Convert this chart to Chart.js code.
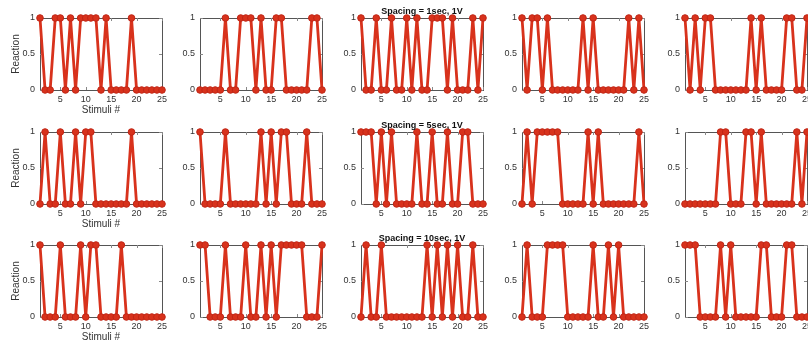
<!DOCTYPE html>
<html>
<head>
<meta charset="utf-8">
<script src="https://cdn.jsdelivr.net/npm/chart.js@4.4.1/dist/chart.umd.min.js"></script>
<style>
  body { margin: 0; background: #fff; width: 808px; height: 348px; overflow: hidden; position: relative; }
  canvas { position: absolute; }
</style>
</head>
<body>
<script>
// stimulus index on the x axis
const stimuli = [1, 2, 3, 4, 5, 6, 7, 8, 9, 10, 11, 12, 13, 14, 15, 16, 17, 18, 19, 20, 21, 22, 23, 24, 25];
const xTicks = [5, 10, 15, 20, 25];
const yTicks = [0, 0.5, 1];
const spacingTitles = ['Spacing = 1sec, 1V', 'Spacing = 5sec, 1V', 'Spacing = 10sec, 1V'];

// reaction (0 / 1) per stimulus, one array per subject, spacing 1 sec
const sp1_a = [1,0,0,1,1, 0,1,0,1,1, 1,1,0,1,0, 0,0,0,1,0, 0,0,0,0,0];
const sp1_b = [0,0,0,0,0, 1,0,0,1,1, 1,0,1,0,0, 1,1,0,0,0, 0,0,1,1,0];
const sp1_c = [1,0,0,1,0, 0,1,0,0,1, 0,1,0,0,1, 1,1,0,1,0, 0,0,1,0,1];
const sp1_d = [1,0,1,1,0, 1,0,0,0,0, 0,0,1,0,1, 0,0,0,0,0, 0,1,0,1,0];
const sp1_e = [1,0,1,0,1, 1,0,0,0,0, 0,0,0,1,0, 1,0,0,0,0, 1,1,0,0,1];

// spacing 5 sec
const sp5_a = [0,1,0,0,1, 0,0,1,0,1, 1,0,0,0,0, 0,0,0,1,0, 0,0,0,0,0];
const sp5_b = [1,0,0,0,0, 1,0,0,0,0, 0,0,1,0,1, 0,1,1,0,0, 0,1,0,0,0];
const sp5_c = [1,1,1,0,1, 0,1,0,0,0, 0,1,0,0,1, 0,0,1,0,0, 1,1,0,0,0];
const sp5_d = [0,1,0,1,1, 1,1,1,0,0, 0,0,0,1,0, 1,0,0,0,0, 0,0,0,1,0];
const sp5_e = [0,0,0,0,0, 0,0,1,1,0, 0,0,1,1,0, 1,0,0,0,0, 0,0,1,0,1];

// spacing 10 sec
const sp10_a = [1,0,0,0,1, 0,0,0,1,0, 1,1,0,0,0, 0,1,0,0,0, 0,0,0,0,0];
const sp10_b = [1,1,0,0,0, 1,0,0,0,1, 0,0,1,0,1, 0,1,1,1,1, 1,0,0,0,1];
const sp10_c = [0,1,0,0,1, 0,0,0,0,0, 0,0,0,1,0, 1,0,1,0,1, 0,0,1,0,0];
const sp10_d = [0,1,0,0,0, 1,1,1,1,0, 0,0,0,0,1, 0,0,1,0,1, 0,0,0,0,0];
const sp10_e = [1,1,1,0,0, 0,0,1,0,1, 0,0,0,0,0, 1,1,0,0,0, 1,1,0,0,0];

const rows = [
  [sp1_a, sp1_b, sp1_c, sp1_d, sp1_e],
  [sp5_a, sp5_b, sp5_c, sp5_d, sp5_e],
  [sp10_a, sp10_b, sp10_c, sp10_d, sp10_e]
];

// page layout of the plot boxes
const colLeft = [40, 200, 361, 522, 685];
const rowTop = [18, 132, 245];
const plotWidth = 122;
const plotHeight = 72;

const red = '#d8321c';
const font = 'Liberation Sans, Arial, sans-serif';

// matlab style box with inward ticks
const boxPlugin = {
  id: 'box',
  beforeDatasetsDraw(chart) {
    const { ctx, chartArea: a, scales } = chart;
    ctx.save();
    ctx.strokeStyle = '#555';
    ctx.lineWidth = 1;
    ctx.strokeRect(a.left + 0.5, a.top + 0.5, a.width, a.height);
    ctx.strokeStyle = '#888';
    ctx.beginPath();
    xTicks.forEach(v => {
      const px = Math.round(scales.x.getPixelForValue(v)) + 0.5;
      ctx.moveTo(px, a.bottom); ctx.lineTo(px, a.bottom - 3);
      ctx.moveTo(px, a.top); ctx.lineTo(px, a.top + 3);
    });
    yTicks.forEach(v => {
      const py = Math.round(scales.y.getPixelForValue(v)) + 0.5;
      ctx.moveTo(a.left, py); ctx.lineTo(a.left + 3, py);
      ctx.moveTo(a.right, py); ctx.lineTo(a.right - 3, py);
    });
    ctx.stroke();
    ctx.restore();
  }
};

const spacingTitlePlugin = {
  id: 'spacingTitle',
  afterDraw(chart, args, opts) {
    if (!opts.text) return;
    const { ctx, chartArea: a } = chart;
    ctx.save();
    ctx.font = 'bold 9px ' + font;
    ctx.fillStyle = '#111';
    ctx.textAlign = 'center';
    ctx.textBaseline = 'middle';
    ctx.fillText(opts.text, (a.left + a.right) / 2, a.top - 6);
    ctx.restore();
  }
};

function makeChart(row, col, values) {
  const first = col === 0;
  const titled = col === 2;
  const yw = first ? 40 : 28;
  const xh = first ? 30 : 18;
  const padTop = titled ? 18 : 8;
  const padRight = 8;

  const canvas = document.createElement('canvas');
  canvas.width = yw + plotWidth + padRight;
  canvas.height = padTop + plotHeight + xh;
  canvas.style.left = (colLeft[col] - yw) + 'px';
  canvas.style.top = (rowTop[row] - padTop) + 'px';
  document.body.appendChild(canvas);

  new Chart(canvas.getContext('2d'), {
    type: 'line',
    data: {
      datasets: [{
        data: values.map((v, i) => ({ x: stimuli[i], y: v })),
        borderColor: red,
        borderWidth: 2.8,
        pointRadius: 3.3,
        pointBackgroundColor: red,
        pointBorderColor: '#c02616',
        pointBorderWidth: 1,
        tension: 0,
        clip: false
      }]
    },
    options: {
      responsive: false,
      animation: false,
      layout: { padding: { top: padTop, right: padRight, left: 0, bottom: 0 } },
      plugins: {
        legend: { display: false },
        tooltip: { enabled: false },
        spacingTitle: { text: titled ? spacingTitles[row] : '' }
      },
      scales: {
        x: {
          type: 'linear', min: 1, max: 25,
          grid: { display: false, drawTicks: false },
          border: { display: false },
          afterBuildTicks: s => { s.ticks = xTicks.map(v => ({ value: v })); },
          afterFit: s => { s.height = xh; s.paddingLeft = 0; s.paddingRight = 0; },
          ticks: { font: { family: font, size: 9 }, color: '#333', padding: 4, maxRotation: 0 },
          title: { display: first, text: 'Stimuli #', color: '#333', font: { family: font, size: 10 }, padding: { top: 0, bottom: 4 } }
        },
        y: {
          min: 0, max: 1,
          grid: { display: false, drawTicks: false },
          border: { display: false },
          afterBuildTicks: s => { s.ticks = yTicks.map(v => ({ value: v })); },
          afterFit: s => { s.width = yw; s.paddingTop = 0; s.paddingBottom = 0; },
          ticks: { font: { family: font, size: 9 }, color: '#333', padding: 5, callback: v => String(v) },
          title: { display: first, text: 'Reaction', color: '#333', font: { family: font, size: 10 }, padding: { top: 10, bottom: 0 } }
        }
      }
    },
    plugins: [boxPlugin, spacingTitlePlugin]
  });
}

rows.forEach((series, r) => series.forEach((values, c) => makeChart(r, c, values)));
</script>
</body>
</html>
